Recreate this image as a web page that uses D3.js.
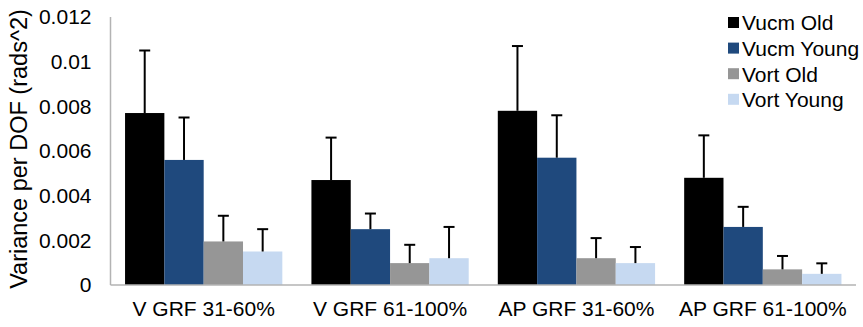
<!DOCTYPE html>
<html>
<head>
<meta charset="utf-8">
<script src="https://cdn.jsdelivr.net/npm/d3@7"></script>
<style>
  body { margin: 0; background: #fff; }
  text { font-family: "Liberation Sans", Arial, sans-serif; fill: #000; }
</style>
</head>
<body>
<script>
var categories = ["V GRF 31-60%", "V GRF 61-100%", "AP GRF 31-60%", "AP GRF 61-100%"];
var series = ["Vucm Old", "Vucm Young", "Vort Old", "Vort Young"];
var colors = ["#000000", "#1f497d", "#969696", "#c6d9f1"];

// mean values, one array per series (across categories)
var vucmOld = [0.0077, 0.0047, 0.0078, 0.0048];
var vucmYoung = [0.0056, 0.0025, 0.0057, 0.0026];
var vortOld = [0.00195, 0.00098, 0.0012, 0.0007];
var vortYoung = [0.0015, 0.0012, 0.00098, 0.0005];

// top of the error bars
var vucmOldErr = [0.0105, 0.0066, 0.0107, 0.0067];
var vucmYoungErr = [0.0075, 0.0032, 0.0076, 0.0035];
var vortOldErr = [0.0031, 0.0018, 0.0021, 0.0013];
var vortYoungErr = [0.0025, 0.0026, 0.0017, 0.00097];

var yTicks = [0, 0.002, 0.004, 0.006, 0.008, 0.01, 0.012];

var values = [vucmOld, vucmYoung, vortOld, vortYoung];
var errs = [vucmOldErr, vucmYoungErr, vortOldErr, vortYoungErr];

var margin = {top: 17, right: 7, bottom: 42, left: 110.5},
    width = 863 - margin.left - margin.right,
    height = 327 - margin.top - margin.bottom;

var svg = d3.select("body").append("svg")
    .attr("width", 863)
    .attr("height", 327)
  .append("g")
    .attr("transform", "translate(" + margin.left + "," + margin.top + ")");

var x0 = d3.scaleBand().domain(categories).range([0, width]);
var x1 = d3.scaleBand().domain(series).range([0, x0.bandwidth()])
    .paddingInner(0).paddingOuter(0.37);
var y = d3.scaleLinear().domain([0, 0.012]).range([height, 0]);

// y tick labels
svg.append("g")
    .call(d3.axisLeft(y).tickValues(yTicks).tickSize(0).tickPadding(19)
      .tickFormat(function(d) { return d === 0 ? "0" : String(+d.toFixed(3)); }))
    .call(function(g) { g.select(".domain").remove(); })
    .selectAll("text")
    .style("font-size", "21px");

// bars
var rows = [];
categories.forEach(function(c, i) {
  series.forEach(function(s, j) {
    rows.push({cat: c, ser: s, v: values[j][i], e: errs[j][i], color: colors[j]});
  });
});

svg.selectAll(".bar")
    .data(rows)
  .enter().append("rect")
    .attr("class", "bar")
    .attr("x", function(d) { return x0(d.cat) + x1(d.ser); })
    .attr("width", x1.bandwidth())
    .attr("y", function(d) { return y(d.v); })
    .attr("height", function(d) { return height - y(d.v); })
    .attr("fill", function(d) { return d.color; });

// error bars (upper only)
var eb = svg.selectAll(".err")
    .data(rows)
  .enter().append("g")
    .attr("class", "err")
    .attr("stroke", "#000")
    .attr("stroke-width", 2);

eb.append("line")
    .attr("x1", function(d) { return x0(d.cat) + x1(d.ser) + x1.bandwidth() / 2; })
    .attr("x2", function(d) { return x0(d.cat) + x1(d.ser) + x1.bandwidth() / 2; })
    .attr("y1", function(d) { return y(d.v); })
    .attr("y2", function(d) { return y(d.e); });

eb.append("line")
    .attr("x1", function(d) { return x0(d.cat) + x1(d.ser) + x1.bandwidth() / 2 - 5.5; })
    .attr("x2", function(d) { return x0(d.cat) + x1(d.ser) + x1.bandwidth() / 2 + 5.5; })
    .attr("y1", function(d) { return y(d.e); })
    .attr("y2", function(d) { return y(d.e); });

// axis lines
svg.append("line")
    .attr("x1", 0).attr("x2", 0).attr("y1", 0).attr("y2", height)
    .attr("stroke", "#b3b3b3").attr("stroke-width", 1.5);
svg.append("line")
    .attr("x1", 0).attr("x2", width).attr("y1", height).attr("y2", height)
    .attr("stroke", "#b3b3b3").attr("stroke-width", 1.5);

// category labels
svg.append("g")
    .attr("transform", "translate(0," + height + ")")
    .call(d3.axisBottom(x0).tickSize(0).tickPadding(16))
    .call(function(g) { g.select(".domain").remove(); })
    .selectAll("text")
    .style("font-size", "21px");

// y title
svg.append("text")
    .attr("transform", "translate(" + (27 - margin.left) + "," + (149 - margin.top) + ") rotate(-90)")
    .attr("text-anchor", "middle")
    .style("font-size", "23.5px")
    .text("Variance per DOF (rads^2)");

// legend
var legend = svg.append("g")
    .attr("transform", "translate(" + (728 - margin.left) + "," + (23 - margin.top) + ")");

var li = legend.selectAll(".li")
    .data(series)
  .enter().append("g")
    .attr("class", "li")
    .attr("transform", function(d, i) { return "translate(0," + (i * 25.6) + ")"; });

li.append("rect")
    .attr("x", 0).attr("y", -6)
    .attr("width", 11).attr("height", 11)
    .attr("fill", function(d, i) { return colors[i]; });

li.append("text")
    .attr("x", 14)
    .attr("dy", "0.35em")
    .style("font-size", "21px")
    .text(function(d) { return d; });
</script>
</body>
</html>
